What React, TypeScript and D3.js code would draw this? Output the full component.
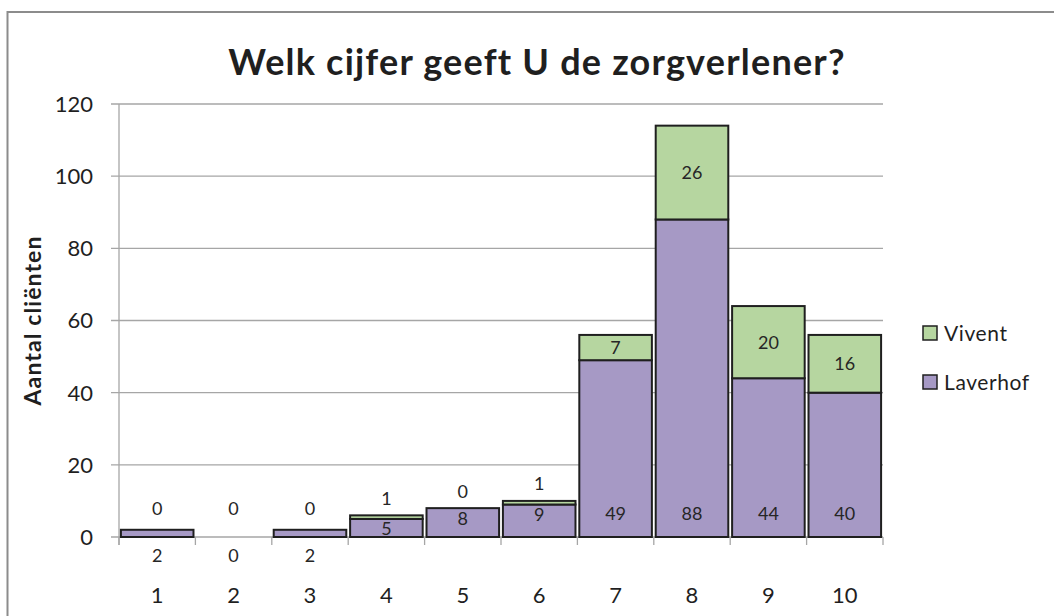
import React from 'react';
import * as d3 from 'd3';

const categories = ["1", "2", "3", "4", "5", "6", "7", "8", "9", "10"];
const laverhof = [2, 0, 2, 5, 8, 9, 49, 88, 44, 40];
const vivent = [0, 0, 0, 1, 0, 1, 7, 26, 20, 16];
const yTicks = [0, 20, 40, 60, 80, 100, 120];
const legendItems = ["Vivent", "Laverhof"];

const W = 1054;
const H = 616;
const FONT = "Lato, 'Open Sans', sans-serif";
const PURPLE = "#a699c5";
const GREEN = "#b6d6a0";
const GRID = "#a6a6a6";
const INK = "#1f1f1f";

export default function App() {
    const margin = { left: 119, right: 171, top: 104, bottom: 79 };
    const x = d3.scaleBand<string>()
        .domain(categories)
        .range([margin.left, W - margin.right])
        .paddingInner(0.05)
        .paddingOuter(0.025);
    const y = d3.scaleLinear().domain([0, 120]).range([H - margin.bottom, margin.top]);
    const step = x.step();
    const x0 = margin.left;
    const x1 = W - margin.right;
    const legendColor = d3.scaleOrdinal<string, string>().domain(legendItems).range([GREEN, PURPLE]);

    return (
        <svg width={W} height={H} style={{ position: "absolute", left: 0, top: 0 }} fontFamily={FONT}>
            <rect x={7.5} y={12} width={1060} height={620} fill="white" stroke="#8c8c8c" strokeWidth={2} />
            <text x={537} y={75} textAnchor="middle" fontSize={36} fontWeight="bold" fill={INK} style={{ letterSpacing: "1.2px" }}>
                Welk cijfer geeft U de zorgverlener?
            </text>

            {/* grid + y ticks */}
            {yTicks.map(t => (
                <g key={t}>
                    <line x1={x0 - 8} x2={x1} y1={y(t)} y2={y(t)} stroke={GRID} strokeWidth={1.3} />
                    <text x={93} y={y(t)} dy="0.36em" textAnchor="end" fontSize={22} fill={INK}>{t}</text>
                </g>
            ))}
            <line x1={x0} x2={x0} y1={y(120)} y2={y(0) + 8} stroke={GRID} strokeWidth={1.3} />
            {d3.range(categories.length + 1).map(i => (
                <line key={i} x1={x0 + i * step} x2={x0 + i * step} y1={y(0)} y2={y(0) + 8} stroke={GRID} strokeWidth={1.3} />
            ))}

            <text transform={`translate(33,${(y(0) + y(120)) / 2}) rotate(-90)`} dy="0.35em" textAnchor="middle" fontSize={23} fontWeight="bold" fill={INK} style={{ letterSpacing: "1.1px" }}>
                Aantal cliënten
            </text>

            {/* bars */}
            {categories.map((c, i) => {
                const bx = x(c)!;
                const bw = x.bandwidth();
                const l = laverhof[i];
                const v = vivent[i];
                return (
                    <g key={c}>
                        {l > 0 && (
                            <rect x={bx} y={y(l)} width={bw} height={y(0) - y(l)} fill={PURPLE} stroke={INK} strokeWidth={2} />
                        )}
                        {v > 0 && (
                            <rect x={bx} y={y(l + v)} width={bw} height={y(l) - y(l + v)} fill={GREEN} stroke={INK} strokeWidth={2} />
                        )}
                    </g>
                );
            })}

            {/* labels */}
            {categories.map((c, i) => {
                const cx = x(c)! + x.bandwidth() / 2;
                const l = laverhof[i];
                const v = vivent[i];
                const ly = l <= 2 ? y(0) + 19 : Math.max(y(0) - 23, y(l) + 10);
                const vy = v <= 1 ? Math.min(y(l + v) - 17, y(0) - 28) : (y(l) + y(l + v)) / 2;
                return (
                    <g key={c} fontSize={18} fill="#262626" textAnchor="middle">
                        <text x={cx} y={ly} dy="0.36em">{l}</text>
                        <text x={cx} y={vy} dy="0.36em">{v}</text>
                        <text x={cx} y={595} dy="0.36em" fontSize={22} fill={INK}>{c}</text>
                    </g>
                );
            })}

            {/* legend */}
            {legendItems.map((name, i) => {
                const yy = 333 + i * 49;
                return (
                    <g key={name}>
                        <rect x={923} y={yy - 7} width={14} height={14} fill={legendColor(name)} stroke={INK} strokeWidth={1.5} />
                        <text x={944} y={yy} dy="0.36em" fontSize={21} fill={INK} style={{ letterSpacing: "0.6px" }}>{name}</text>
                    </g>
                );
            })}
        </svg>
    );
}
